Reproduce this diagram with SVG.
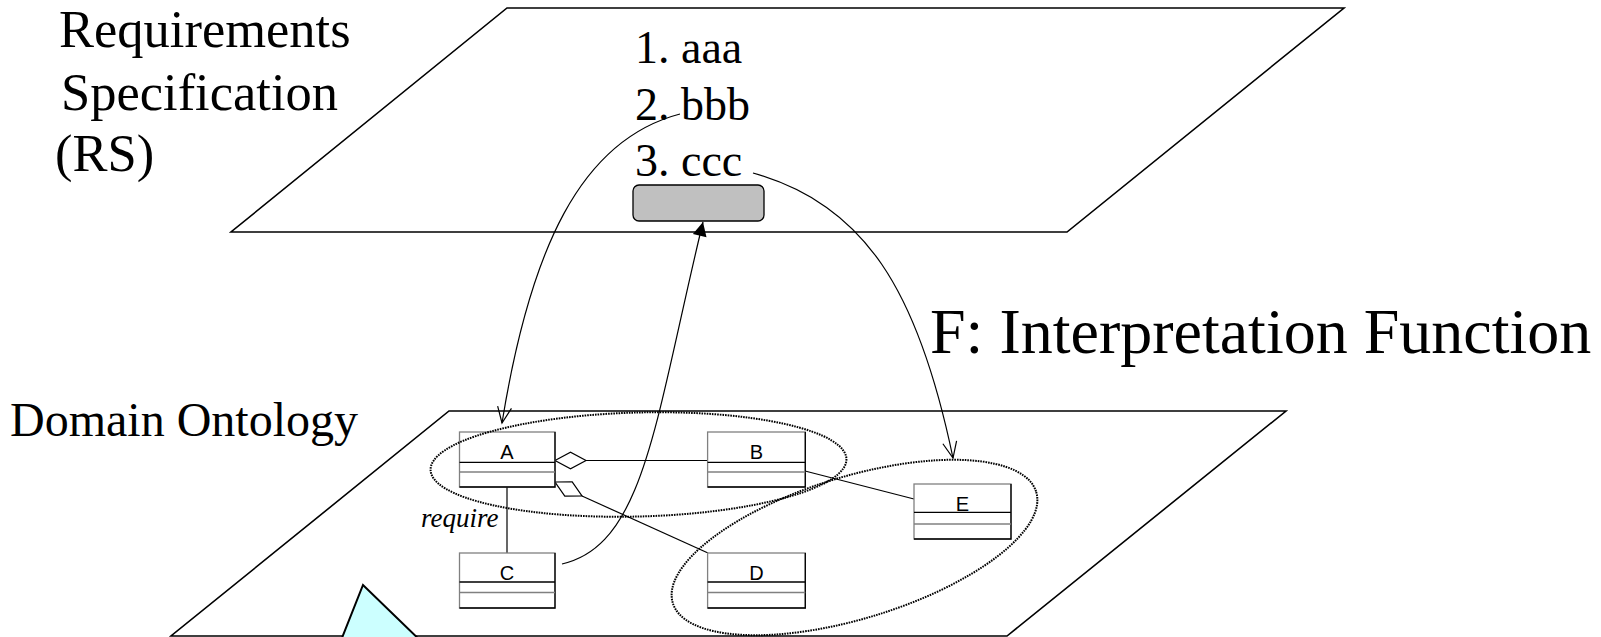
<svg xmlns="http://www.w3.org/2000/svg" width="1601" height="637" viewBox="0 0 1601 637">
<style>
.plane{fill:#fff;stroke:#000;stroke-width:1.6}
.serif{font-family:"Liberation Serif","Times New Roman",serif;fill:#000}
.lbl{font-family:"Liberation Sans",Arial,sans-serif;font-size:20px;text-anchor:middle;fill:#000}
.boxbg{fill:#fff;stroke:#808080;stroke-width:1.3}
.boxdk{fill:none;stroke:#000;stroke-width:1.3}
.conn{fill:none;stroke:#000;stroke-width:1.2}
.dot{fill:none;stroke:#000;stroke-width:2;stroke-dasharray:1.6 1}
</style>
<defs>
<marker id="open" viewBox="0 0 20 20" refX="18" refY="10" markerWidth="20" markerHeight="20" markerUnits="userSpaceOnUse" orient="auto">
<path d="M2,3 L18,10 L2,17" fill="none" stroke="#000" stroke-width="1.2"/>
</marker>
<marker id="filled" viewBox="0 0 16 16" refX="15" refY="8" markerWidth="16" markerHeight="16" markerUnits="userSpaceOnUse" orient="auto">
<path d="M1,1 L15,8 L1,15 z" fill="#000"/>
</marker>
</defs>

<g id="rs-plane">
<polygon class="plane" points="507,8 1344,8 1067,232 231,232"/>
<text class="serif" font-size="46" x="635" y="63">1. aaa</text>
<text class="serif" font-size="46" x="635" y="120">2. bbb</text>
<text class="serif" font-size="46" x="635" y="176">3. ccc</text>
<rect x="633" y="185" width="131" height="36" rx="6" ry="6" fill="#c0c0c0" stroke="#000" stroke-width="1.3"/>
</g>

<g id="rs-label">
<text class="serif" font-size="52.5" x="59" y="47">Requirements</text>
<text class="serif" font-size="52.5" x="61" y="110">Specification</text>
<text class="serif" font-size="52.5" x="55" y="171">(RS)</text>
</g>

<g id="f-label">
<text class="serif" font-size="64" x="930" y="353">F: Interpretation Function</text>
</g>

<g id="do-label">
<text class="serif" font-size="48" x="10" y="436">Domain Ontology</text>
</g>

<g id="ontology-plane">
<polygon class="plane" points="449,411 1286,411 1007,636 171,636"/>
</g>

<g id="connectors">
<line class="conn" x1="586" y1="460.5" x2="708" y2="460.5"/>
<polygon points="555,460.5 570.5,452.3 586,460.5 570.5,468.7" fill="#fff" stroke="#000" stroke-width="1.2"/>
<line class="conn" x1="582" y1="496" x2="708" y2="553"/>
<polygon points="555,482 572.2,481.9 582,496 564.8,496.1" fill="#fff" stroke="#000" stroke-width="1.2"/>
<line class="conn" x1="507" y1="487" x2="507" y2="553"/>
<line class="conn" x1="805" y1="471" x2="914" y2="499"/>
<path class="conn" d="M680,114 C580,140 530,250 502,423" marker-end="url(#open)"/>
<path class="conn" d="M562,564 C645,545 655,420 703,222" marker-end="url(#filled)"/>
<path class="conn" d="M753,173 C865,205 918,290 953,458" marker-end="url(#open)"/>
</g>

<g id="node-A">
<rect class="boxbg" x="459.5" y="432" width="95.5" height="55"/>
<path class="boxdk" d="M555,432 V487 H459.5 M459.5,462.3 H555"/>
<line x1="459.5" y1="472" x2="555" y2="472" stroke="#808080" stroke-width="1.3"/>
<text class="lbl" x="507" y="459">A</text>
</g>
<g id="node-B">
<rect class="boxbg" x="707.6" y="432" width="97.7" height="55"/>
<path class="boxdk" d="M805.3,432 V487 H707.6 M707.6,462.3 H805.3"/>
<line x1="707.6" y1="472" x2="805.3" y2="472" stroke="#808080" stroke-width="1.3"/>
<text class="lbl" x="756.5" y="459">B</text>
</g>
<g id="node-C">
<rect class="boxbg" x="459.5" y="553" width="95.5" height="55"/>
<path class="boxdk" d="M555,553 V608 H459.5 M459.5,582 H555"/>
<line x1="459.5" y1="592.5" x2="555" y2="592.5" stroke="#808080" stroke-width="1.3"/>
<text class="lbl" x="507" y="580">C</text>
</g>
<g id="node-D">
<rect class="boxbg" x="707.6" y="553" width="97.7" height="55"/>
<path class="boxdk" d="M805.3,553 V608 H707.6 M707.6,582 H805.3"/>
<line x1="707.6" y1="592.5" x2="805.3" y2="592.5" stroke="#808080" stroke-width="1.3"/>
<text class="lbl" x="756.5" y="580">D</text>
</g>
<g id="node-E">
<rect class="boxbg" x="914" y="484" width="97" height="55"/>
<path class="boxdk" d="M1011,484 V539 H914 M914,512.3 H1011"/>
<line x1="914" y1="524" x2="1011" y2="524" stroke="#808080" stroke-width="1.3"/>
<text class="lbl" x="962.5" y="511">E</text>
</g>

<g id="require-label">
<text class="serif" font-size="27" font-style="italic" x="421" y="527">require</text>
</g>

<g id="groups">
<ellipse class="dot" cx="638.5" cy="464.5" rx="208" ry="52" transform="rotate(-1.5 638.5 464.5)"/>
<ellipse class="dot" cx="854.5" cy="547.5" rx="190" ry="71" transform="rotate(-17 854.5 547.5)"/>
</g>

<g id="triangle">
<polygon points="338,648 363,585 428,648" fill="#ccffff" stroke="#000" stroke-width="2"/>
</g>
</svg>
